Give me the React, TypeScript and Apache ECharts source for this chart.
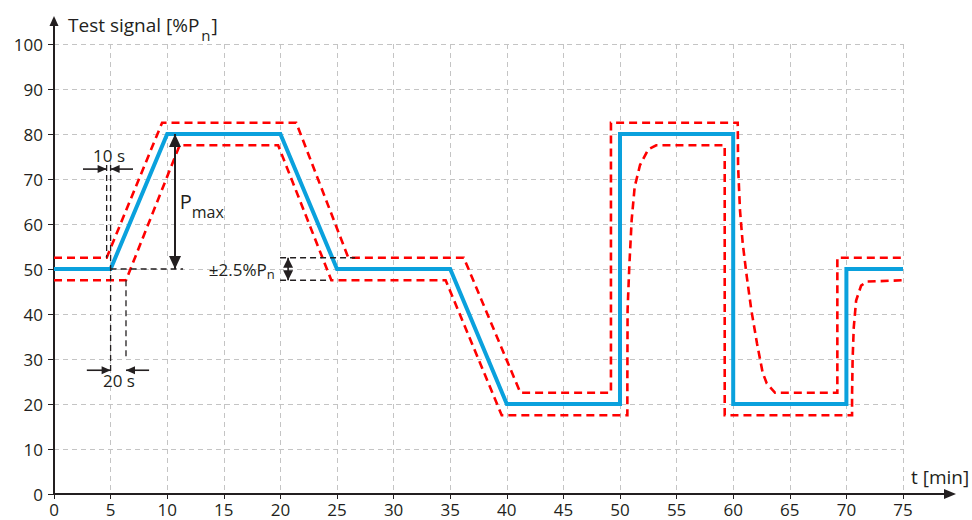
import React, { useEffect, useRef } from "react";
import * as echarts from "echarts";

// Axis ticks
const xTicks = [0, 5, 10, 15, 20, 25, 30, 35, 40, 45, 50, 55, 60, 65, 70, 75];
const yTicks = [0, 10, 20, 30, 40, 50, 60, 70, 80, 90, 100];

// Test signal profile (minutes, %Pn)
const signalTime = [0, 5, 10, 20, 25, 35, 40, 50, 50, 60, 60, 70, 70, 75];
const signalValue = [50, 50, 80, 80, 50, 50, 20, 20, 80, 80, 20, 20, 50, 50];

// Upper tolerance limit
const upperTime = [
  0, 4.65, 9.55, 21.4, 26.0, 36.2, 41.2, 49.2, 49.2, 60.4, 60.43, 60.6, 60.84,
  61.2, 61.6, 62.1, 62.6, 62.96, 63.7, 69.2, 69.2, 75,
];
const upperValue = [
  52.5, 52.5, 82.5, 82.5, 52.5, 52.5, 22.5, 22.5, 82.5, 82.5, 72.9, 63.1, 55.7,
  48.3, 40.9, 33.5, 27.0, 24.6, 22.5, 22.5, 52.5, 52.5,
];

// Lower tolerance limit
const lowerTime = [
  0, 6.36, 11.1, 19.8, 24.5, 34.6, 39.55, 50.65, 50.65, 50.67, 50.82, 51.03,
  51.3, 51.77, 52.5, 53.2, 59.25, 59.25, 70.5, 70.5, 70.55, 70.65, 70.86, 71.3,
  71.8, 75,
];
const lowerValue = [
  47.5, 47.5, 77.5, 77.5, 47.5, 47.5, 17.5, 17.5, 25.0, 40.9, 50.5, 60.9, 68.3,
  73.1, 76.6, 77.5, 77.5, 17.5, 17.5, 22.0, 30.0, 37.0, 43.0, 46.3, 47.2, 47.5,
];

const FONT = "'Open Sans', sans-serif";
const INK = "#231f20";
const BLUE = "#0aa1dd";
const RED = "#ff0000";

const pairs = (t: number[], v: number[]) => t.map((x, i) => [x, v[i]]);

const measureCtx = (() => {
  const c = document.createElement("canvas");
  return c.getContext("2d")!;
})();
const textWidth = (s: string, size: number) => {
  measureCtx.font = `${size}px ${FONT}`;
  return measureCtx.measureText(s).width;
};

export default function App() {
  const ref = useRef<HTMLDivElement>(null);

  useEffect(() => {
    const el = ref.current!;
    const chart = echarts.init(el, null, { renderer: "svg" });

    const axisLabel = { color: INK, fontFamily: FONT, fontSize: 17 };
    chart.setOption({
      animation: false,
      grid: { left: 54, right: 69, top: 44, bottom: 26, containLabel: false },
      xAxis: {
        type: "value",
        min: xTicks[0],
        max: xTicks[xTicks.length - 1],
        interval: xTicks[1] - xTicks[0],
        axisLine: { show: true, lineStyle: { color: INK, width: 2 } },
        axisTick: { show: true, length: 5, lineStyle: { color: INK, width: 1 } },
        axisLabel: { ...axisLabel, margin: 7 },
        splitLine: {
          show: true,
          lineStyle: { color: "#c4c4c4", width: 1, type: [5, 4] },
        },
      },
      yAxis: {
        type: "value",
        min: yTicks[0],
        max: yTicks[yTicks.length - 1],
        interval: yTicks[1] - yTicks[0],
        axisLine: { show: true, lineStyle: { color: INK, width: 2 } },
        axisTick: { show: true, length: 6, lineStyle: { color: INK, width: 1 } },
        axisLabel: { ...axisLabel, margin: 11 },
        splitLine: {
          show: true,
          lineStyle: { color: "#c4c4c4", width: 1, type: [5, 4] },
        },
      },
      series: [
        {
          name: "upper",
          type: "line",
          data: pairs(upperTime, upperValue),
          symbol: "none",
          lineStyle: { color: RED, width: 2.6, type: [8, 5], join: "miter" },
          z: 3,
        },
        {
          name: "lower",
          type: "line",
          data: pairs(lowerTime, lowerValue),
          symbol: "none",
          lineStyle: { color: RED, width: 2.6, type: [8, 5], join: "miter" },
          z: 3,
        },
        {
          name: "signal",
          type: "line",
          data: pairs(signalTime, signalValue),
          symbol: "none",
          lineStyle: { color: BLUE, width: 4, join: "miter" },
          z: 4,
        },
      ],
    });

    const P = (t: number, v: number) =>
      chart.convertToPixel({ gridIndex: 0 }, [t, v]) as number[];

    const els: any[] = [];
    const line = (a: number[], b: number[], opts: any = {}) =>
      els.push({
        type: "line",
        z: 20,
        shape: { x1: a[0], y1: a[1], x2: b[0], y2: b[1] },
        style: { stroke: INK, lineWidth: 1.3, ...opts },
      });
    const dashed = (a: number[], b: number[]) => line(a, b, { lineDash: [6, 4] });
    const head = (tip: number[], from: number[], len: number, half: number) => {
      const dx = tip[0] - from[0];
      const dy = tip[1] - from[1];
      const d = Math.hypot(dx, dy) || 1;
      const ux = dx / d;
      const uy = dy / d;
      const bx = tip[0] - ux * len;
      const by = tip[1] - uy * len;
      els.push({
        type: "polygon",
        z: 21,
        shape: {
          points: [
            [tip[0], tip[1]],
            [bx - uy * half, by + ux * half],
            [bx + uy * half, by - ux * half],
          ],
        },
        style: { fill: INK },
      });
    };
    const arrow = (tail: number[], tip: number[], len = 9, half = 4, w = 1.6) => {
      line(tail, tip, { lineWidth: w });
      head(tip, tail, len, half);
    };
    const text = (
      s: string,
      x: number,
      y: number,
      size: number,
      align = "left"
    ) =>
      els.push({
        type: "text",
        z: 22,
        x,
        y,
        style: {
          text: s,
          fill: INK,
          font: `${size}px ${FONT}`,
          fontSize: size,
          fontFamily: FONT,
          align,
          verticalAlign: "middle",
          textAlign: align,
          textVerticalAlign: "middle",
        },
      });

    // Axis extensions with arrowheads
    const o = P(0, 0);
    const yTop = P(0, 100);
    const xEnd = P(75, 0);
    line([o[0], yTop[1]], [o[0], 24], { lineWidth: 2 });
    head([o[0], 16], [o[0], 40], 10, 4.5);
    line([xEnd[0], o[1]], [945, o[1]], { lineWidth: 2 });
    head([956, o[1]], [900, o[1]], 12, 5);

    // Axis titles
    const t1 = "Test signal [%P";
    text(t1, 68, 25, 19);
    const w1 = textWidth(t1, 19);
    text("n", 68 + w1 + 2, 35, 15);
    text("]", 68 + w1 + 2 + textWidth("n", 15) + 1, 25, 19);
    text("t [min]", 911, 477, 19);

    // P_max span
    const pm1 = P(10.69, 80);
    const pm2 = P(10.69, 50);
    line(pm1, pm2, { lineWidth: 2 });
    head(pm1, pm2, 13, 6);
    head(pm2, pm1, 13, 6);
    dashed(P(5, 50), P(11.4, 50));
    const pmx = P(11.1, 65)[0];
    const pmy = P(11.1, 65)[1];
    text("P", pmx, pmy, 20);
    text("max", pmx + textWidth("P", 20), pmy + 10, 16);

    // 10 s lead of the upper limit
    dashed(P(4.65, 73.1), P(4.65, 52.5));
    dashed(P(5, 73.1), P(5, 27.2));
    arrow(P(2.56, 72.2), P(4.65, 72.2));
    arrow(P(6.98, 72.2), P(5, 72.2));
    text("10 s", P(4.86, 75.2)[0], P(4.86, 75.2)[1], 17, "center");

    // 20 s lag of the lower limit
    dashed(P(6.36, 47.5), P(6.36, 29.8));
    arrow(P(2.9, 27.5), P(5, 27.5));
    arrow(P(8.4, 27.5), P(6.36, 27.5));
    text("20 s", P(5.74, 25.2)[0], P(5.74, 25.2)[1], 17, "center");

    // ±2.5 %Pn band width
    dashed(P(19.97, 52.5), P(26.6, 52.5));
    dashed(P(19.97, 47.5), P(24.4, 47.5));
    const bm = P(20.68, 50);
    const bt = P(20.68, 52.5);
    const bb = P(20.68, 47.5);
    head(bt, bm, 10, 5);
    head(bb, bm, 10, 5);
    line(bt, bb, { lineWidth: 1.6 });
    const bandLabel = "±2.5%P";
    const nW = textWidth("n", 13);
    const bx = P(19.5, 50)[0] - nW;
    text(bandLabel, bx, bm[1], 17, "right");
    text("n", bx, bm[1] + 5, 13);

    chart.setOption({ graphic: { elements: els } });

    return () => chart.dispose();
  }, []);

  return (
    <div
      ref={ref}
      style={{ position: "absolute", left: 0, top: 0, width: 972, height: 520 }}
    />
  );
}
